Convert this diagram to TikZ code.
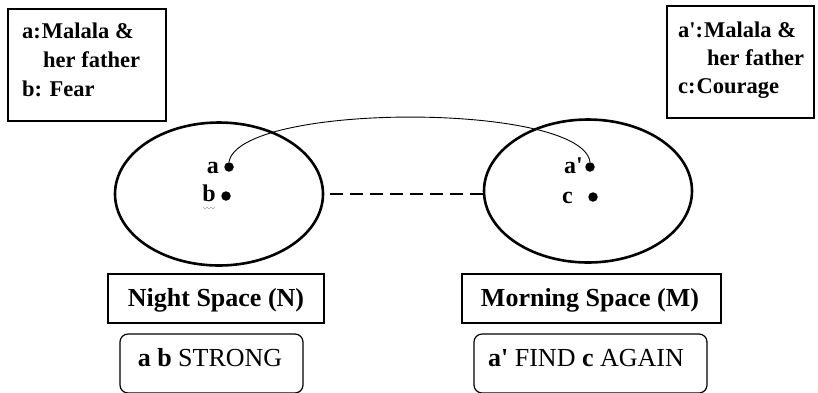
\documentclass[tikz,border=0pt]{standalone}
\usepackage{fontspec}
\setmainfont{Liberation Serif}[Ligatures=TeXOff]
\usetikzlibrary{shapes.geometric}
\begin{document}
\begin{tikzpicture}[x=1pt,y=-1pt,
  legend/.style={draw, line width=1.3pt, minimum width=#1, minimum height=112, inner sep=0pt},
  legtext/.style={anchor=base west, inner sep=0pt, font=\bfseries\fontsize{22.5}{26}\selectfont},
  space/.style={draw, ellipse, line width=2.6pt, minimum width=208, minimum height=143, inner sep=0pt},
  spacename/.style={draw, line width=1.2pt, minimum height=49, inner sep=0pt},
  spacetext/.style={anchor=base, inner sep=0pt, font=\bfseries\fontsize{26}{30}\selectfont},
  verdict/.style={draw, line width=1.2pt, rounded corners=8pt, minimum height=59, inner sep=0pt},
  verdicttext/.style={anchor=base, inner sep=0pt, font=\fontsize{26}{30}\selectfont},
  pt/.style={circle, fill, inner sep=0pt, minimum size=9.5},
  ptlabel/.style={anchor=base east, inner sep=0pt, font=\bfseries\fontsize{24}{28}\selectfont},
  link/.style={line width=0.9pt},
  gap/.style={line width=1.6pt, dash pattern=on 13pt off 7pt}]
\useasboundingbox (0,0) rectangle (818,392);
\clip (0,0) rectangle (818,392);

% legends in the top corners
\node[legend=158] (legN) at (87,65) {};
\node[legtext] (legNa) at (22,38) {a:\kern1pt Malala \&};
\node[legtext] (legNa2) at (43,67) {her father};
\node[legtext] (legNb) at (22,96) {b: Fear};

\node[legend=147] (legM) at (740.5,62) {};
\node[legtext] (legMa) at (678,37) {a':\kern1pt Malala \&};
\node[legtext] (legMa2) at (707,65) {her father};
\node[legtext] (legMc) at (678,93) {c:\kern1pt Courage};

% the two spaces
\node[space] (N) at (219,194) {};
\node[space] (M) at (588,191) {};

% elements inside the spaces
\node[pt] (pa) at (229,167) {};
\node[pt] (pb) at (226,196) {};
\node[pt] (pap) at (590,167) {};
\node[pt] (pc) at (593,197) {};
\node[ptlabel] (la) at (219,173) {a};
\node[ptlabel] (lb) at (216,201) {b};
\node[ptlabel] (lap) at (583,173) {a'};
\node[ptlabel] (lc) at (573,203) {c};
\draw[gray!70, line width=0.5pt] (203,207) -- (205,209) -- (207,207) -- (209,209) -- (211,207) -- (213,209) -- (215,207);

% connectors
\draw[link] (pa.north) .. controls +(10,-60) and +(-8,-60) .. (pap.north);
\draw[gap] ([xshift=6pt]N.east) -- ([xshift=6pt]N.east -| M.west);

% names of the spaces
\node[spacename, minimum width=216] (nameN) at (216,298.5) {};
\node[spacetext] (nameNt) at (216,306) {Night Space (N)};
\node[spacename, minimum width=259] (nameM) at (591.5,298.5) {};
\node[spacetext] (nameMt) at (590,306) {Morning Space (M)};

% what happens in each space
\node[verdict, minimum width=183] (vN) at (211.5,363.5) {};
\node[verdicttext] (vNt) at (210,366) {\textbf{a b} STRONG};
\node[verdict, minimum width=233] (vM) at (590.5,363.5) {};
\node[verdicttext] (vMt) at (586,366) {\textbf{a'} FIND \textbf{c} AGAIN};
\end{tikzpicture}
\end{document}
